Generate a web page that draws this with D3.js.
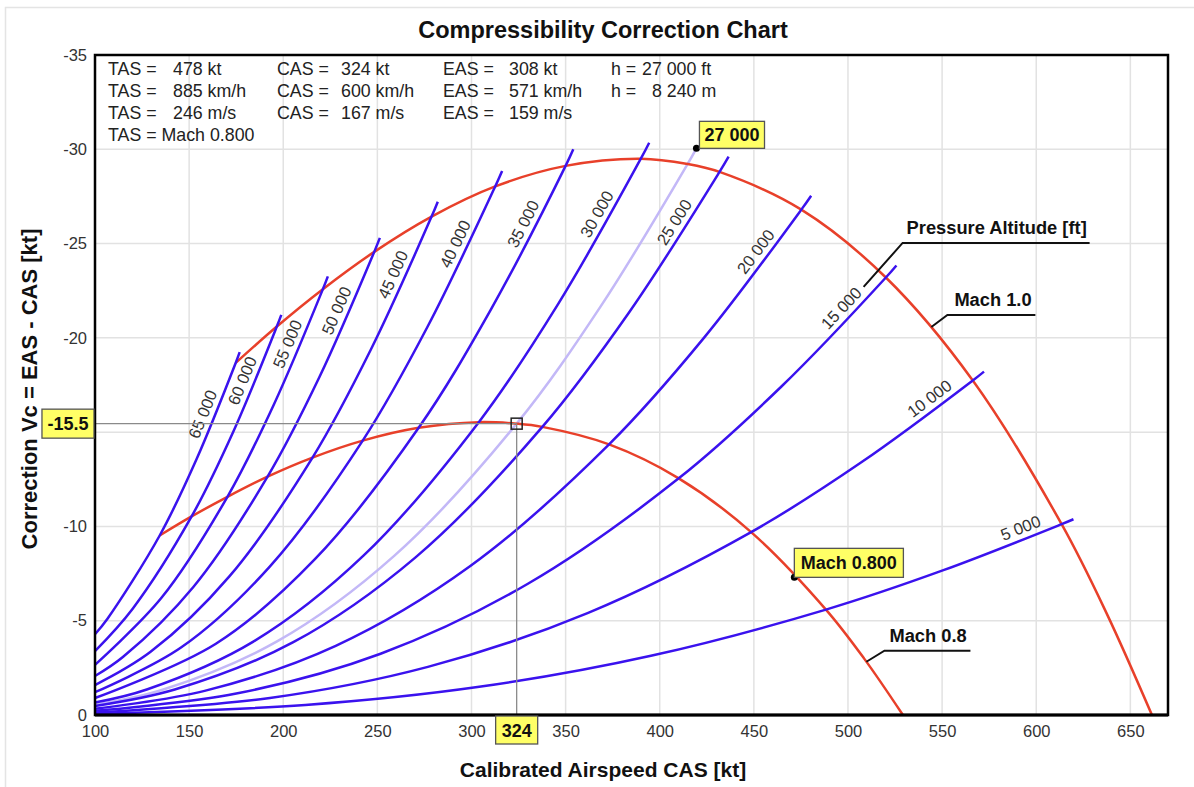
<!DOCTYPE html>
<html>
<head>
<meta charset="utf-8">
<script src="https://cdn.jsdelivr.net/npm/d3@7"></script>
<style>
  body { margin: 0; background: #fff; }
  svg { font-family: "Liberation Sans", Arial, sans-serif; }
</style>
</head>
<body>
<svg id="chart" width="1194" height="787"></svg>
<script>
// ---- axis ticks ----
const casTicks = [100, 150, 200, 250, 300, 350, 400, 450, 500, 550, 600, 650];
const corrTicks = [0, -5, -10, -15, -20, -25, -30, -35];

// ---- compressibility correction per pressure altitude: [CAS kt, EAS-CAS kt] ----
const alt5000  = [[100,-0.06],[211.71,-0.53],[303.17,-1.48],[395.33,-3.14],[488.29,-5.59],[550.71,-7.68],[613.49,-10.12],[619.78,-10.38]];
const alt10000 = [[100,-0.13],[192.90,-0.90],[276.83,-2.55],[361.98,-5.42],[448.55,-9.70],[507.10,-13.40],[566.30,-17.74],[572.26,-18.21]];
const alt15000 = [[100,-0.22],[175.06,-1.14],[251.71,-3.25],[329.96,-6.96],[410.09,-12.55],[464.65,-17.42],[520.12,-23.20],[525.73,-23.84]];
const alt20000 = [[100,-0.33],[158.22,-1.28],[227.88,-3.67],[299.37,-7.90],[373.08,-14.35],[423.58,-20.01],[475.21,-26.80],[480.43,-27.54]];
const alt25000 = [[100,-0.48],[142.38,-1.35],[205.34,-3.86],[270.28,-8.36],[337.64,-15.28],[384.06,-21.40],[431.75,-28.80],[436.59,-29.61]];
const alt27000 = [[100,-0.54],[136.31,-1.35],[196.70,-3.90],[259.08,-8.45],[324.00,-15.45],[368.71,-21.68],[414.81,-29.22],[419.50,-30.05]];
const alt30000 = [[100,-0.66],[127.51,-1.35],[184.12,-3.89],[242.75,-8.46],[303.89,-15.53],[346.24,-21.83],[389.95,-29.50],[394.40,-30.35]];
const alt35000 = [[100,-0.90],[164.22,-3.78],[216.83,-8.26],[271.93,-15.23],[310.28,-21.50],[349.99,-29.12],[354.08,-30.00]];
const alt40000 = [[100,-1.21],[145.88,-3.59],[192.84,-7.87],[242.21,-14.55],[276.71,-20.60],[312.60,-28.03],[316.27,-28.85]];
const alt45000 = [[100,-1.59],[129.53,-3.35],[171.38,-7.35],[215.54,-13.65],[246.49,-19.37],[278.79,-26.43],[282.10,-27.22]];
const alt50000 = [[100,-2.07],[114.98,-3.09],[152.25,-6.79],[191.66,-12.64],[219.35,-17.95],[248.34,-24.56],[251.32,-25.30]];
const alt55000 = [[100,-2.66],[135.20,-6.20],[170.34,-11.57],[195.09,-16.48],[221.04,-22.58],[223.70,-23.26]];
const alt60000 = [[100,-3.39],[120.03,-5.64],[151.31,-10.53],[173.39,-15.01],[196.58,-20.60],[198.96,-21.22]];
const alt65000 = [[100,-4.28],[106.53,-5.09],[134.37,-9.52],[154.04,-13.59],[174.73,-18.67],[176.86,-19.24]];

// ---- constant Mach lines ----
const mach08 = [[134.37,-9.52],[151.31,-10.53],[170.34,-11.57],[191.66,-12.64],[215.54,-13.65],[242.21,-14.55],[271.93,-15.23],[303.89,-15.53],[324.00,-15.45],[337.64,-15.28],[373.08,-14.35],[410.09,-12.55],[448.55,-9.70],[488.29,-5.59],[508.60,-2.99],[529.18,0]];
const mach10 = [[174.73,-18.67],[196.58,-20.60],[221.04,-22.58],[248.34,-24.56],[278.79,-26.43],[312.60,-28.03],[349.99,-29.12],[389.95,-29.50],[414.81,-29.22],[431.75,-28.80],[475.21,-26.80],[520.12,-23.20],[566.30,-17.74],[613.49,-10.12],[637.40,-5.39],[661.47,0]];

// altitude lines (the selected altitude is drawn separately)
const altitudes = [5000, 10000, 15000, 20000, 25000, 30000, 35000, 40000, 45000, 50000, 55000, 60000, 65000];
const altSeries = [alt5000, alt10000, alt15000, alt20000, alt25000, alt30000, alt35000, alt40000, alt45000, alt50000, alt55000, alt60000, alt65000];
const altLabelCas = [594, 547, 501, 456, 413, 372, 333, 297, 264, 234, 208, 184, 163];

// ---- selected condition ----
const selAltitude = "27 000";
const selCas = 324;
const selCorr = -15.45;
const selCorrLabel = "-15.5";
const machMarker = [471.5, -7.3];
const machMarkerLabel = "Mach 0.800";

const readoutRows = [
  [["TAS =", "478 kt"], ["CAS =", "324 kt"], ["EAS =", "308 kt"], ["h =", "27 000 ft"]],
  [["TAS =", "885 km/h"], ["CAS =", "600 km/h"], ["EAS =", "571 km/h"], ["h =", "8 240 m"]],
  [["TAS =", "246 m/s"], ["CAS =", "167 m/s"], ["EAS =", "159 m/s"]],
  [["TAS = Mach 0.800", ""]]
];

// ---- layout ----
const svg = d3.select("#chart");
const pLeft = 95, pRight = 1168, pTop = 55, pBottom = 715;
const x = d3.scaleLinear().domain([100, 670]).range([pLeft, pRight]);
const y = d3.scaleLinear().domain([0, -35]).range([pBottom, pTop]);

const BLUE = "#3a12ee", RED = "#e8402a", LAV = "#c3b8f7";
const line = d3.line().x(d => x(d[0])).y(d => y(d[1])).curve(d3.curveCatmullRom.alpha(0.5));

// outer frame
svg.append("rect").attr("x", 5.5).attr("y", 7.5).attr("width", 1220).attr("height", 820)
  .attr("fill", "none").attr("stroke", "#e4e4e4").attr("stroke-width", 1.5);

// title
svg.append("text").attr("x", 603).attr("y", 38).attr("text-anchor", "middle")
  .attr("font-size", 23.5).attr("font-weight", "bold").attr("fill", "#111")
  .text("Compressibility Correction Chart");

// grid
const grid = svg.append("g");
grid.selectAll(".gx").data(casTicks).join("line")
  .attr("x1", d => x(d)).attr("x2", d => x(d)).attr("y1", pTop).attr("y2", pBottom)
  .attr("stroke", "#e2e2e2").attr("stroke-width", 1.5);
grid.selectAll(".gy").data(corrTicks).join("line")
  .attr("x1", pLeft).attr("x2", pRight).attr("y1", d => y(d)).attr("y2", d => y(d))
  .attr("stroke", "#e2e2e2").attr("stroke-width", 1.5);

// axes
const xAxis = svg.append("g").attr("transform", `translate(0,${pBottom})`)
  .call(d3.axisBottom(x).tickValues(casTicks).tickSize(0).tickPadding(10));
const yAxis = svg.append("g").attr("transform", `translate(${pLeft},0)`)
  .call(d3.axisLeft(y).tickValues(corrTicks).tickFormat(d => String(d)).tickSize(0).tickPadding(8));
[xAxis, yAxis].forEach(g => {
  g.select(".domain").remove();
  g.selectAll("text").attr("font-size", 16.5).attr("fill", "#333")
    .attr("font-family", "\"Liberation Sans\", Arial, sans-serif");
});

// axis titles
svg.append("text").attr("x", 603).attr("y", 777).attr("text-anchor", "middle")
  .attr("font-size", 21).attr("font-weight", "bold").attr("fill", "#111")
  .text("Calibrated Airspeed CAS [kt]");
svg.append("text").attr("transform", "translate(37,389) rotate(-90)").attr("text-anchor", "middle")
  .attr("font-size", 22).attr("font-weight", "bold").attr("fill", "#111")
  .text("Correction Vc = EAS - CAS [kt]");

// curves
const plot = svg.append("g");
plot.append("path").datum(alt27000).attr("d", line)
  .attr("fill", "none").attr("stroke", LAV).attr("stroke-width", 2.5);
const m08Path = plot.append("path").datum(mach08).attr("d", line)
  .attr("fill", "none").attr("stroke", RED).attr("stroke-width", 2.5);
const m10Path = plot.append("path").datum(mach10).attr("d", line)
  .attr("fill", "none").attr("stroke", RED).attr("stroke-width", 2.5);
const altPaths = plot.selectAll(".alt").data(altSeries).join("path")
  .attr("class", "alt").attr("d", line)
  .attr("fill", "none").attr("stroke", BLUE).attr("stroke-width", 2.5);

// find the point of a path at a given screen x, with its direction
function pointAtX(node, px) {
  let lo = 0, hi = node.getTotalLength();
  for (let i = 0; i < 40; i++) {
    const mid = (lo + hi) / 2;
    if (node.getPointAtLength(mid).x < px) lo = mid; else hi = mid;
  }
  const p = node.getPointAtLength(lo);
  const a = node.getPointAtLength(Math.max(0, lo - 3));
  const b = node.getPointAtLength(lo + 3);
  return { x: p.x, y: p.y, angle: Math.atan2(b.y - a.y, b.x - a.x) * 180 / Math.PI };
}

// altitude labels along their curves
const fmtAlt = v => d3.format(",")(v).replace(/,/g, " ");
altPaths.each(function(d, i) {
  const p = pointAtX(this, x(altLabelCas[i]));
  svg.append("text")
    .attr("transform", `translate(${p.x},${p.y}) rotate(${p.angle})`)
    .attr("y", -6).attr("text-anchor", "middle")
    .attr("font-size", 16.5).attr("fill", "#333")
    .text(fmtAlt(altitudes[i]));
});

// readout block
const colX = [108, 277, 443, 611];
const valX = [[173, 341, 509, 642], [173, 341, 509, 652], [173, 341, 509], [0]];
readoutRows.forEach((row, r) => {
  row.forEach((cell, c) => {
    const yy = 75 + r * 22;
    svg.append("text").attr("x", colX[c]).attr("y", yy).attr("font-size", 17.8).attr("fill", "#222").text(cell[0]);
    if (cell[1]) {
      svg.append("text").attr("x", valX[r][c]).attr("y", yy).attr("font-size", 17.8).attr("fill", "#222").text(cell[1]);
    }
  });
});

// crosshair at the selected condition
const sx = x(selCas), sy = y(selCorr);
svg.append("line").attr("x1", pLeft).attr("x2", sx).attr("y1", sy).attr("y2", sy)
  .attr("stroke", "#8a8a8a").attr("stroke-width", 1.3);
svg.append("line").attr("x1", sx).attr("x2", sx).attr("y1", sy).attr("y2", pBottom)
  .attr("stroke", "#8a8a8a").attr("stroke-width", 1.3);
svg.append("rect").attr("x", sx - 5.5).attr("y", sy - 5.5).attr("width", 11).attr("height", 11)
  .attr("fill", "none").attr("stroke", "#222").attr("stroke-width", 1.5);

// plot border
svg.append("rect").attr("x", pLeft).attr("y", pTop).attr("width", pRight - pLeft).attr("height", pBottom - pTop)
  .attr("fill", "none").attr("stroke", "#000").attr("stroke-width", 2.5);
svg.append("line").attr("x1", pLeft).attr("x2", pRight).attr("y1", pBottom).attr("y2", pBottom)
  .attr("stroke", "#000").attr("stroke-width", 3);

// callouts with leader lines
function callout(ax, ay, elbow, end, label, tdx, tdy) {
  svg.append("path")
    .attr("d", `M${ax},${ay}L${ax + elbow[0]},${ay + elbow[1]}L${ax + end},${ay + elbow[1]}`)
    .attr("fill", "none").attr("stroke", "#111").attr("stroke-width", 2);
  svg.append("text").attr("x", ax + elbow[0] + tdx).attr("y", ay + elbow[1] + tdy)
    .attr("font-size", 18.3).attr("font-weight", "bold").attr("fill", "#111").text(label);
}
callout(x(508.3), y(-22.7), [39, -44], 226, "Pressure Altitude [ft]", 4, -9);
const p10 = pointAtX(m10Path.node(), x(544.3));
callout(p10.x, p10.y, [16, -12], 104, "Mach 1.0", 7, -9);
const p08 = pointAtX(m08Path.node(), x(509.8));
callout(p08.x, p08.y, [18, -11], 104, "Mach 0.8", 5, -9);

// yellow value tags
const TAG_FONT = 18;
function tag(bx, by, w, h, label) {
  const g = svg.append("g");
  g.append("rect").attr("x", bx).attr("y", by).attr("width", w).attr("height", h)
    .attr("fill", "#ffff66").attr("stroke", "#555").attr("stroke-width", 1.3);
  g.append("text").attr("x", bx + w / 2).attr("y", by + h / 2 + 6.5).attr("text-anchor", "middle")
    .attr("font-size", TAG_FONT).attr("font-weight", "bold").attr("fill", "#111").text(label);
  return { x0: bx, x1: bx + w, y0: by, y1: by + h };
}
function textWidth(label) {
  const t = svg.append("text").attr("font-size", TAG_FONT).attr("font-weight", "bold").text(label);
  const w = t.node().getComputedTextLength();
  t.remove();
  return w;
}
// selected altitude tag at the end of its curve
const endPt = alt27000[alt27000.length - 1];
const ex = x(endPt[0]), ey = y(endPt[1]);
svg.append("circle").attr("cx", ex).attr("cy", ey).attr("r", 3.5).attr("fill", "#000");
tag(ex + 3, ey - 27, textWidth(selAltitude) + 10, 27, selAltitude);
// Mach tag
const mx = x(machMarker[0]), my = y(machMarker[1]);
svg.append("circle").attr("cx", mx).attr("cy", my).attr("r", 3.5).attr("fill", "#000");
tag(mx, my - 29, textWidth(machMarkerLabel) + 13, 29, machMarkerLabel);
// axis tags (they cover the tick label underneath)
const wc = textWidth(selCorrLabel) + 11;
const yTag = tag(pLeft - 1 - wc, sy - 14.5, wc, 29, selCorrLabel);
const wx = textWidth(String(selCas)) + 12;
const xTag = tag(sx - wx / 2, pBottom + 1, wx, 28, String(selCas));
function hideCovered(axisG, box) {
  axisG.selectAll(".tick text").each(function() {
    const b = this.getBoundingClientRect();
    if (b.right > box.x0 && b.left < box.x1 && b.bottom > box.y0 && b.top < box.y1) {
      d3.select(this).attr("display", "none");
    }
  });
}
hideCovered(yAxis, yTag);
hideCovered(xAxis, xTag);
</script>
</body>
</html>
